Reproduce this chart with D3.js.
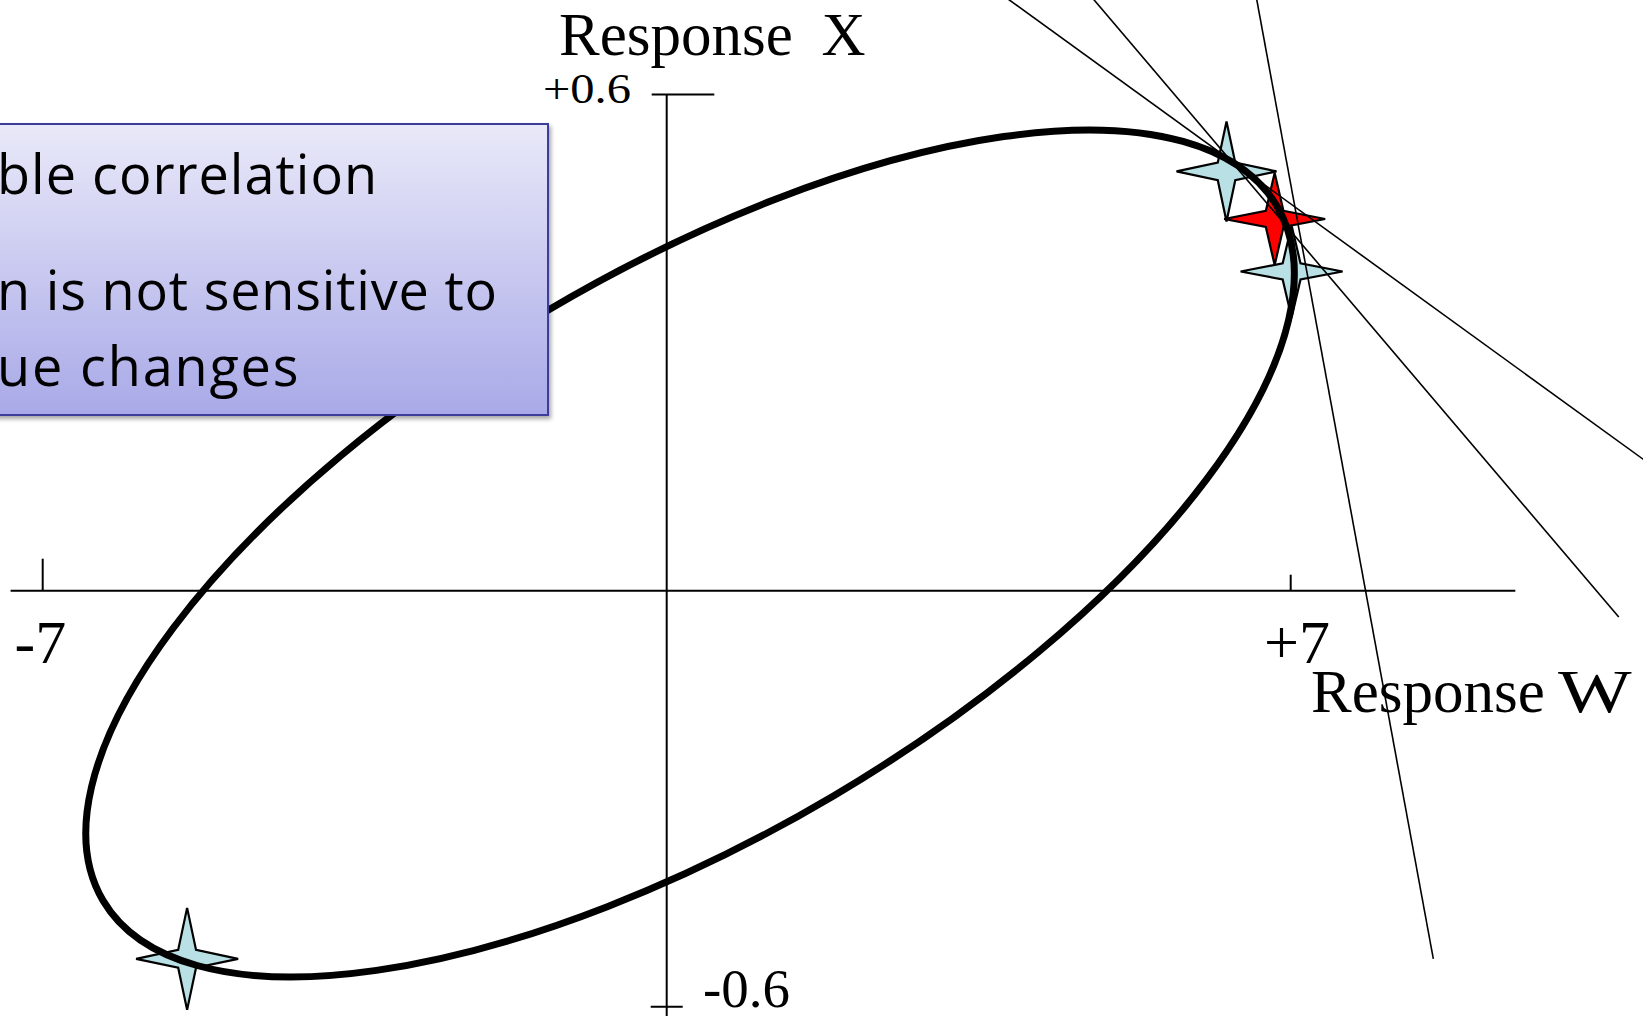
<!DOCTYPE html>
<html>
<head>
<meta charset="utf-8">
<script src="https://cdn.jsdelivr.net/npm/d3@7"></script>
<style>
  html, body { margin: 0; padding: 0; background: #ffffff; overflow: hidden; }
  svg { display: block; }
</style>
</head>
<body>
<svg id="chart" width="1643" height="1016"></svg>
<script>
// ---------------- data ----------------
const wTicks = [-7, 7];                       // Response W axis ticks
const wTickLabels = ["-7", "+7"];
const xTicks = [0.6, -0.6];                   // Response X axis ticks
const xTickLabels = ["+0.6", "-0.6"];
const axisTitleW = ["Response", "W"];
const axisTitleX = ["Response", "X"];
const wAxisExtent = [-7.36, 9.52];            // drawn extent of the W axis
const xAxisExtent = [0.6, -0.62];             // drawn extent of the X axis

// correlation ellipse (centre in W/X units, semi-axes in W units, tilt in degrees)
const ellipseCenterW = 0.262;
const ellipseCenterX = 0.045;
const ellipseSemiMajor = 7.65;
const ellipseSemiMinor = 3.16;
const ellipseTilt = 30.6;

// star markers
const starW = [6.28, 7.01, 6.82, -5.38];
const starX = [0.507, 0.386, 0.4495, -0.531];
const starKind = ["alt", "alt", "best", "alt"];

// straight tangent-like lines (start / end in W/X units)
const lineStartW = [3.77, 4.75, 6.61];
const lineStartX = [0.72, 0.72, 0.72];
const lineEndW = [11.03, 10.68, 8.60];
const lineEndX = [0.153, -0.038, -0.531];

// text box (left part cut off in the original)
const boxLines = ["ble correlation", "n is not sensitive to", "ue changes"];

// ---------------- styles / layout ----------------
const starSize = [[50, 50], [51, 46], [50.5, 46], [51, 51]];
const starFill = { alt: "#b9e0e4", best: "#ff0000" };
const wTickLen = [32, 16];
const xTickSpan = [[15, 47.6], [16, 16]];
const wLabelDx = [-28.1, -26.7];
const xLabelPos = [{ x: 543, y: 102.7, size: 43, len: 88 }, { x: 703, y: 1007, size: 54, len: 87 }];
const boxLayout = { x: -20, y: 124, right: 548, bottom: 415 };
const boxTextPos = [{ x: -3, y: 194, len: 380 }, { x: -3, y: 310, len: 500 }, { x: -3, y: 386, len: 301.5 }];

const serif = "'Liberation Serif', 'Times New Roman', 'DejaVu Serif', serif";

const svg = d3.select("#chart");
const x = d3.scaleLinear().domain([-7, 7]).range([42.7, 1290.7]);
const y = d3.scaleLinear().domain([-0.6, 0, 0.6]).range([1006.7, 590.7, 94.5]);
const unit = x(1) - x(0);

const defs = svg.append("defs");
const grad = defs.append("linearGradient").attr("id", "boxGrad")
  .attr("x1", 0).attr("y1", 0).attr("x2", 0).attr("y2", 1);
grad.append("stop").attr("offset", "0%").attr("stop-color", "#e9e9f9");
grad.append("stop").attr("offset", "100%").attr("stop-color", "#a9a9e8");
const flt = defs.append("filter").attr("id", "shadow")
  .attr("x", "-5%").attr("y", "-5%").attr("width", "115%").attr("height", "120%");
flt.append("feDropShadow").attr("dx", 2).attr("dy", 3).attr("stdDeviation", 2)
  .attr("flood-color", "#000").attr("flood-opacity", 0.35);

// ---------------- axes ----------------
const axes = svg.append("g").attr("stroke", "#000").attr("stroke-width", 2);
axes.append("line")
  .attr("x1", x(wAxisExtent[0])).attr("x2", x(wAxisExtent[1]))
  .attr("y1", y(0)).attr("y2", y(0));
axes.append("line")
  .attr("x1", x(0)).attr("x2", x(0))
  .attr("y1", y(xAxisExtent[0])).attr("y2", y(xAxisExtent[1]));
axes.selectAll(".wtick").data(wTicks).join("line").attr("class", "wtick")
  .attr("x1", d => x(d)).attr("x2", d => x(d))
  .attr("y1", y(0)).attr("y2", (d, i) => y(0) - wTickLen[i]);
axes.selectAll(".xtick").data(xTicks).join("line").attr("class", "xtick")
  .attr("x1", (d, i) => x(0) - xTickSpan[i][0]).attr("x2", (d, i) => x(0) + xTickSpan[i][1])
  .attr("y1", d => y(d)).attr("y2", d => y(d));

// tick labels
svg.selectAll(".wlab").data(wTicks).join("text").attr("class", "wlab")
  .attr("x", (d, i) => x(d) + wLabelDx[i]).attr("y", y(0) + 72)
  .attr("font-family", serif).attr("font-size", 62).attr("fill", "#000")
  .text((d, i) => wTickLabels[i]);
svg.selectAll(".xlab").data(xTicks).join("text").attr("class", "xlab")
  .attr("x", (d, i) => xLabelPos[i].x).attr("y", (d, i) => xLabelPos[i].y)
  .attr("font-family", serif).attr("font-size", (d, i) => xLabelPos[i].size)
  .attr("textLength", (d, i) => xLabelPos[i].len).attr("lengthAdjust", "spacingAndGlyphs")
  .attr("fill", "#000")
  .text((d, i) => xTickLabels[i]);

// axis titles
const tX = svg.append("text").attr("y", 55).attr("font-family", serif).attr("font-size", 61).attr("fill", "#000");
tX.append("tspan").attr("x", 559).text(axisTitleX[0]);
tX.append("tspan").attr("x", 821.5).text(axisTitleX[1]);
svg.append("text").attr("x", 1311).attr("y", 712).attr("font-family", serif).attr("font-size", 61)
  .attr("fill", "#000").text(axisTitleW[0]);
svg.append("text").attr("transform", "translate(1558,712) scale(1.28,1)")
  .attr("x", 0).attr("y", 0).attr("font-family", serif).attr("font-size", 61)
  .attr("fill", "#000").text(axisTitleW[1]);

// ---------------- stars ----------------
function starPoints(cx, cy, rx, ry) {
  const k = 0.175;
  return [[cx, cy - ry], [cx + k * rx, cy - k * ry], [cx + rx, cy], [cx + k * rx, cy + k * ry],
          [cx, cy + ry], [cx - k * rx, cy + k * ry], [cx - rx, cy], [cx - k * rx, cy - k * ry]];
}
const starLine = d3.line().curve(d3.curveLinearClosed);
svg.append("g").selectAll("path").data(starW).join("path")
  .attr("d", (d, i) => starLine(starPoints(x(d), y(starX[i]), starSize[i][0], starSize[i][1])))
  .attr("fill", (d, i) => starFill[starKind[i]])
  .attr("stroke", "#000").attr("stroke-width", 2.2).attr("stroke-linejoin", "miter");

// ---------------- ellipse ----------------
const ecx = x(ellipseCenterW), ecy = y(ellipseCenterX);
svg.append("ellipse")
  .attr("cx", ecx).attr("cy", ecy)
  .attr("rx", ellipseSemiMajor * unit).attr("ry", ellipseSemiMinor * unit)
  .attr("transform", `rotate(${-ellipseTilt},${ecx},${ecy})`)
  .attr("fill", "none").attr("stroke", "#000").attr("stroke-width", 7);

// ---------------- thin lines ----------------
svg.append("g").selectAll("line").data(lineStartW).join("line")
  .attr("x1", d => x(d)).attr("y1", (d, i) => y(lineStartX[i]))
  .attr("x2", (d, i) => x(lineEndW[i])).attr("y2", (d, i) => y(lineEndX[i]))
  .attr("stroke", "#000").attr("stroke-width", 1.6);

// ---------------- text box ----------------
const box = svg.append("g");
box.append("rect")
  .attr("x", boxLayout.x).attr("y", boxLayout.y)
  .attr("width", boxLayout.right - boxLayout.x).attr("height", boxLayout.bottom - boxLayout.y)
  .attr("fill", "url(#boxGrad)").attr("stroke", "#3c3c9c").attr("stroke-width", 2)
  .attr("filter", "url(#shadow)");
box.selectAll("text").data(boxLines).join("text")
  .attr("x", (d, i) => boxTextPos[i].x).attr("y", (d, i) => boxTextPos[i].y)
  .attr("textLength", (d, i) => boxTextPos[i].len).attr("lengthAdjust", "spacing")
  .attr("font-family", "'Open Sans', 'Noto Sans', sans-serif").attr("font-size", 54)
  .attr("fill", "#000")
  .text(d => d);
</script>
</body>
</html>
